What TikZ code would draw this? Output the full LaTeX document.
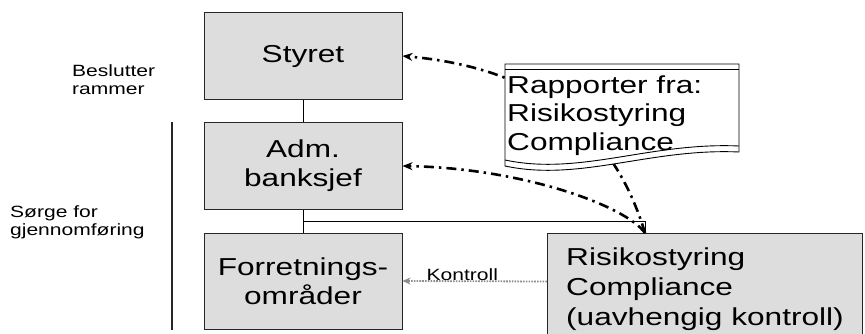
\documentclass[tikz,border=0pt]{standalone}
\usepackage{fontspec}
\setmainfont{Liberation Sans}[FakeStretch=1.29]
\usetikzlibrary{arrows.meta}
\definecolor{boxgray}{HTML}{DDDDDD}
\definecolor{kontgray}{HTML}{8C8C8C}
\begin{document}
\begin{tikzpicture}[x=1pt,y=-1pt,
  box/.style={draw=black!85,fill=boxgray,line width=1pt,minimum width=198pt,minimum height=87pt,inner sep=0pt,align=center,font=\fontsize{24.5}{29}\selectfont},
  small/.style={font=\fontsize{16.3}{18}\selectfont,align=left,inner sep=0pt},
  conn/.style={draw=black,line width=1pt},
  rep/.style={line width=2.6pt,dash pattern=on 10pt off 5pt on 2.5pt off 5pt,-{Stealth[length=10pt,width=8pt]}},
  kont/.style={draw=kontgray,line width=1.8pt,dash pattern=on 1.6pt off 1.2pt,-{Stealth[length=8pt,width=7pt]}}]
\useasboundingbox (0,0) rectangle (865,334);
% left labels (base anchor = last line)
\node[small,anchor=base west] (beslutter) at (72,95) {Beslutter\\rammer};
\node[small,anchor=base west] (sorge) at (10,235) {Sørge for\\gjennomføring};
\coordinate (vtop) at (172,122);
\coordinate (vbot) at (172,330);
\draw[line width=1.3pt,black!85] (vtop) -- (vbot);
% boxes
\node[box] (styret) at (303,56) {Styret};
\node[box] (adm) at (303,166) {Adm.\\banksjef};
\node[box,minimum height=96pt] (forr) at (303,281) {Forretnings-\\områder};
\node[box,minimum width=315pt,minimum height=112pt,anchor=north west,align=left,font=\fontsize{24.5}{30}\selectfont] (risiko) at (547,233) {Risikostyring\\Compliance\\(uavhengig kontroll)};
% connectors
\draw[conn] (styret) -- (adm);
\draw[conn] (adm) -- (forr);
\coordinate (junction) at (303,221);
\coordinate (rtop) at (645,233);
\draw[conn] (junction) -| (rtop);
% report arrows
\draw[rep] (rtop) .. controls (620,150) and (560,70) .. (styret.east);
\draw[rep] (rtop) .. controls (625,205) and (520,168) .. (adm.east);
% document shape
\path[draw=black,fill=white,line width=0.9pt] (505,64) -- (739,64) -- (739,152) .. controls (650,148) and (580,182) .. (505,166) -- cycle;
\draw[line width=0.9pt] (505,69) -- (739,69);
\draw[line width=0.9pt] (739,146) .. controls (650,142) and (580,176) .. (505,160);
\node[anchor=base west,align=left,inner sep=0pt,font=\fontsize{24.5}{28.5}\selectfont] (rapport) at (507,150) {Rapporter fra:\\Risikostyring\\Compliance};
% kontroll
\draw[kont] ([yshift=8pt]risiko.west) -- (forr.east) node[pos=0.586,anchor=base,small,yshift=1pt] (kontroll) {Kontroll};
\end{tikzpicture}
\end{document}
